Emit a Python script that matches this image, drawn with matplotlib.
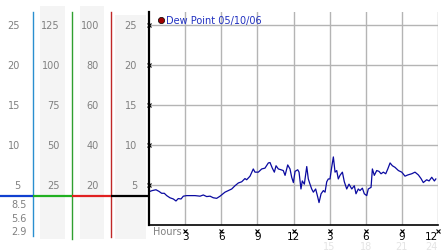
# Dew point chart with multi-scale side columns

import numpy as np
import matplotlib
matplotlib.use("Agg")
import matplotlib.pyplot as plt
from matplotlib.patches import Rectangle

# data
hours = [0.08, 0.27, 0.58, 0.83, 1.05, 1.27, 1.47, 1.74, 2.02, 2.24, 2.43, 2.66,
         2.85, 3.13, 3.82, 4.24, 4.51, 4.79, 5.07, 5.34, 5.62, 5.90, 6.31, 6.59,
         6.87, 7.14, 7.42, 7.70, 7.97, 8.11, 8.39, 8.66, 8.80, 9.08, 9.36, 9.63,
         9.91, 10.05, 10.24, 10.41, 10.55, 10.74, 10.96, 11.15, 11.30, 11.52,
         11.71, 11.85, 11.99, 12.13, 12.35, 12.46, 12.62, 12.73, 12.90, 13.10,
         13.23, 13.37, 13.51, 13.65, 13.84, 14.01, 14.12, 14.29, 14.48, 14.62,
         14.76, 14.89, 15.03, 15.17, 15.31, 15.45, 15.59, 15.72, 15.86, 16.06,
         16.22, 16.42, 16.61, 16.84, 17.05, 17.19, 17.38, 17.52, 17.72, 17.88,
         18.08, 18.21, 18.44, 18.55, 18.71, 18.91, 19.10, 19.27, 19.46, 19.66,
         19.83, 20.02, 20.21, 20.43, 20.71, 20.99, 21.26, 21.49, 21.82, 22.09,
         22.37, 22.59, 22.78, 23.06, 23.26, 23.48, 23.70, 23.82]
dewpoint = [4.2, 4.3, 4.4, 4.2, 3.96, 3.96, 3.67, 3.4, 3.25, 3.0, 3.3, 3.25,
            3.6, 3.67, 3.67, 3.6, 3.75, 3.55, 3.6, 3.4, 3.33, 3.6, 4.1, 4.3,
            4.5, 4.9, 5.25, 5.4, 5.8, 5.65, 6.1, 7.0, 6.6, 6.6, 7.0, 7.1,
            7.75, 7.8, 7.1, 6.6, 7.4, 7.0, 6.9, 6.8, 6.2, 7.5,
            7.0, 5.96, 5.3, 6.7, 6.9, 6.6, 4.5, 5.5, 5.1, 7.3,
            5.75, 5.1, 4.5, 4.1, 4.5, 3.5, 2.8, 3.9, 4.3, 4.1,
            5.4, 5.75, 5.75, 7.2, 8.5, 6.6, 6.8, 5.75, 6.2, 6.6,
            5.4, 4.5, 5.1, 4.5, 4.9, 3.9, 4.5, 4.3, 4.6, 3.9,
            3.67, 4.5, 4.7, 7.0, 6.2, 6.8, 6.7, 6.4, 6.6, 6.4,
            7.0, 7.75, 7.4, 7.2, 6.8, 6.6, 6.1, 6.25, 6.4, 6.6,
            6.25, 5.8, 5.3, 5.65, 5.5, 5.96, 5.5, 5.75]

yticks = [5, 10, 15, 20, 25]
xticks = [3, 6, 9, 12, 15, 18, 21, 24]
xlabels = ["3", "6", "9", "12", "3", "6", "9", "12"]
xlabels2 = ["15", "18", "21", "24"]

col1 = ["5", "10", "15", "20", "25"]
col2 = ["25", "50", "75", "100", "125"]
col3 = ["20", "40", "60", "80", "100"]
col4 = ["5", "10", "15", "20", "25"]
col1_low = ["8.5", "5.6", "2.9"]

legend_text = "Dew Point 05/10/06"

W, H = 442, 253
fig = plt.figure(figsize=(W / 100, H / 100), dpi=100)

# background panel in pixel coords
bg = fig.add_axes([0, 0, 1, 1])
bg.set_xlim(0, W)
bg.set_ylim(H, 0)
bg.axis("off")

grey = "#808080"
for x0, x1, y0 in [(40, 65, 7), (80, 104, 7), (115, 146, 16)]:
    bg.add_patch(Rectangle((x0, y0), x1 - x0, 240 - y0, color="#f4f4f4", lw=0))

bg.plot([33, 33], [13, 237], color="#2a8fd0", lw=1)
bg.plot([72, 72], [13, 240], color="#30a030", lw=1)
bg.plot([111, 111], [13, 238], color="#c02828", lw=1)

bg.plot([0, 33], [197, 197], color="#1040d0", lw=1.6, solid_capstyle="butt")
bg.plot([33, 72], [197, 197], color="#20b020", lw=1.6, solid_capstyle="butt")
bg.plot([72, 111], [197, 197], color="#e02020", lw=1.6, solid_capstyle="butt")
bg.plot([111, 149], [197, 197], color="black", lw=1.6, solid_capstyle="butt")

def ypix(v):
    return 226 - 8 * v

for i, v in enumerate(yticks):
    y = ypix(v)
    bg.text(20, y, col1[i], ha="right", va="center", fontsize=7, color=grey)
    bg.text(60, y, col2[i], ha="right", va="center", fontsize=7, color=grey)
    bg.text(99, y, col3[i], ha="right", va="center", fontsize=7, color=grey)
    bg.text(137, y, col4[i], ha="right", va="center", fontsize=7, color=grey)

for lab, y in zip(col1_low, [205, 219, 232]):
    bg.text(27, y, lab, ha="right", va="center", fontsize=7, color=grey)

# main chart
ax = fig.add_axes([149 / W, (H - 226) / H, 289 / W, 213 / H])
ax.set_xlim(0, 24)
ax.set_ylim(0, 26.6)
ax.set_facecolor("white")

ax.plot(hours, dewpoint, color="#0a0aa0", lw=0.9)

ax.set_yticks(yticks)
ax.set_yticklabels([])
ax.set_xticks(xticks)
ax.set_xticklabels(xlabels, fontsize=7.5, color="black")
ax.get_xticklabels()[-1].set_horizontalalignment("right")
ax.tick_params(length=0, pad=4.5)
ax.grid(True, color="#b4b4b4", lw=1)
ax.set_axisbelow(True)

for s in ["top", "right"]:
    ax.spines[s].set_visible(False)
ax.spines["left"].set_linewidth(1.6)
ax.spines["bottom"].set_linewidth(1.2)

# little x marks on the ticks
ax.plot(np.zeros(len(yticks)), yticks, "x", color="black", ms=2.5, mew=0.8, clip_on=False)
ax.plot(xticks, [-0.75] * len(xticks), "x", color="black", ms=2.5, mew=0.8, clip_on=False)

ax.text(0.33, -0.03, "Hours", transform=ax.get_xaxis_transform(), ha="left", va="center",
        fontsize=7, color=grey)
for x, lab in zip(xticks[4:], xlabels2):
    ax.text(x, -0.1, lab, transform=ax.get_xaxis_transform(),
            ha="right" if x == xticks[-1] else "center", va="center",
            fontsize=7, color="#e4e4e4")

# legend
ax.plot([1.0], [25.6], "o", color="#a00000", mec="black", mew=0.5, ms=4.5, clip_on=False)
ax.text(1.43, 25.6, legend_text, ha="left", va="center", fontsize=7, color="#2030c0")

plt.savefig("out.png", dpi=100)
